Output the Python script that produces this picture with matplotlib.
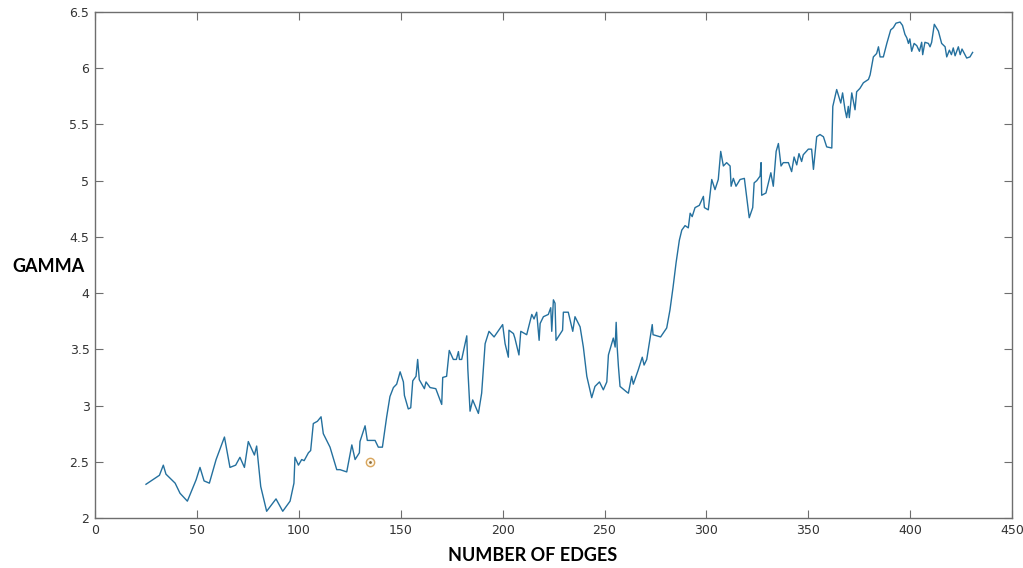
import matplotlib
matplotlib.use("Agg")
from matplotlib import pyplot as plt
from matplotlib.ticker import FuncFormatter
import numpy as np

# number of edges vs. gamma
edges = [25, 31.6, 33.5, 34.8, 39.3, 41.7, 45.3, 49.6, 51.5, 53.5, 56.1, 59.4,
         63.5, 66.2, 69, 71.1, 73.3, 75.2, 78.2, 79.3, 81.3, 84.2, 88.8, 92.1,
         95.7, 97.6, 98.1, 99.8, 101.4, 102.6, 104.7, 105.8, 107.1, 109.1, 110.9,
         112, 115.3, 118.6, 120.2, 123.5, 126, 127.6, 129.7, 130, 132.5, 133.6,
         137.4, 139, 141, 143.1, 144.7, 146.4, 148, 149.7, 151.3, 151.8, 153.7,
         154.9, 155.9, 157.5, 158.3, 159.1, 161.6, 162.4, 164.4, 167.2, 170.1,
         170.6, 172.5, 173.8, 175.8, 177.3, 178.3, 178.8, 179.9, 182.4, 182.9,
         184, 185.3, 188.1, 189.7, 191.4, 193.3, 195.8, 200, 201.2, 202.8, 203.1,
         205.3, 206, 208, 208.9, 211.8, 214.3, 215.4, 216.7, 217.9, 218.4, 220,
         222.4, 223.6, 224.1, 224.9, 225.7, 226.2, 229.4, 229.8, 232.2, 234.4,
         235.5, 238, 239.6, 241.3, 243.7, 245.3, 247.5, 249.4, 251.1, 251.9,
         254.3, 255.2, 255.7, 256.2, 256.8, 257.6, 260.9, 261.7, 263.3, 264.1,
         266.6, 268.5, 269.4, 270.7, 273.4, 273.8, 277.5, 280.5, 282.1, 283.6,
         285.1, 286.7, 287.9, 289.5, 291.1, 292, 293, 294.4, 296.5, 298.5, 299,
         300.9, 302.6, 304.2, 305.8, 307, 308.3, 309.9, 311.6, 312.1, 313.2,
         314.5, 316.5, 318.6, 321, 322.7, 323.4, 324.7, 326.3, 326.8, 327.1,
         329.2, 330.4, 331.6, 332.8, 334.2, 335.3, 336.6, 337.7, 340.2, 341.8,
         343, 344.3, 345.4, 346.7, 347.5, 350, 351.6, 352.5, 354.1, 355.7, 357.4,
         359, 361.5, 362, 363.9, 365.9, 366.8, 368, 368.8, 369.6, 370.1, 371.3,
         372.9, 373.7, 375.3, 377, 379.5, 380.3, 381.9, 383.5, 384.4, 385.2,
         386.8, 388.5, 390.4, 391.7, 393, 395, 396.2, 397.4, 398.3, 399.1, 399.8,
         400.7, 401.9, 403.2, 404.5, 405.6, 406.1, 407.2, 408.9, 409.7, 410.5,
         411.8, 413.8, 415.4, 417.1, 417.9, 419.2, 420.2, 421.1, 422, 423.6,
         424.5, 425.4, 427.7, 429.3, 430.6]
gamma = [2.30, 2.38, 2.47, 2.39, 2.31, 2.22, 2.15, 2.34, 2.45, 2.33, 2.31, 2.52,
         2.72, 2.45, 2.47, 2.54, 2.45, 2.68, 2.56, 2.64, 2.28, 2.06, 2.17, 2.06,
         2.15, 2.31, 2.54, 2.47, 2.52, 2.51, 2.58, 2.60, 2.84, 2.86, 2.90,
         2.75, 2.63, 2.43, 2.43, 2.41, 2.65, 2.52, 2.58, 2.68, 2.82, 2.69,
         2.69, 2.63, 2.63, 2.90, 3.08, 3.16, 3.19, 3.30, 3.21, 3.09, 2.97,
         2.98, 3.22, 3.26, 3.41, 3.23, 3.15, 3.21, 3.16, 3.15, 3.01,
         3.25, 3.26, 3.49, 3.41, 3.41, 3.48, 3.41, 3.41, 3.62, 3.33,
         2.95, 3.05, 2.93, 3.11, 3.55, 3.66, 3.61, 3.72, 3.55, 3.43, 3.67,
         3.64, 3.60, 3.45, 3.66, 3.63, 3.81, 3.77, 3.83, 3.58, 3.73, 3.79,
         3.81, 3.87, 3.66, 3.94, 3.91, 3.58, 3.67, 3.83, 3.83, 3.66,
         3.79, 3.70, 3.52, 3.26, 3.07, 3.17, 3.21, 3.14, 3.21, 3.45,
         3.60, 3.52, 3.74, 3.52, 3.35, 3.17, 3.12, 3.11, 3.26, 3.19,
         3.32, 3.43, 3.36, 3.41, 3.72, 3.63, 3.61, 3.69, 3.85, 4.05,
         4.27, 4.47, 4.56, 4.60, 4.58, 4.71, 4.68, 4.76, 4.78, 4.86, 4.76,
         4.74, 5.01, 4.92, 5.01, 5.26, 5.13, 5.16, 5.13, 4.95, 5.02,
         4.95, 5.01, 5.02, 4.67, 4.76, 4.98, 5.00, 5.04, 5.16, 4.87,
         4.89, 4.98, 5.07, 4.95, 5.26, 5.33, 5.13, 5.16, 5.16, 5.08,
         5.21, 5.14, 5.24, 5.17, 5.23, 5.28, 5.28, 5.10, 5.39, 5.41, 5.39,
         5.30, 5.29, 5.66, 5.81, 5.69, 5.78, 5.63, 5.56, 5.66, 5.56, 5.78,
         5.63, 5.79, 5.82, 5.87, 5.90, 5.94, 6.10, 6.13, 6.19, 6.10,
         6.10, 6.22, 6.34, 6.36, 6.40, 6.41, 6.38, 6.30, 6.27, 6.22, 6.26,
         6.15, 6.22, 6.20, 6.15, 6.23, 6.12, 6.23, 6.22, 6.19, 6.23,
         6.39, 6.33, 6.22, 6.19, 6.10, 6.16, 6.12, 6.18, 6.11, 6.19,
         6.12, 6.17, 6.09, 6.10, 6.14]

# highlighted point
mark_x = [135]
mark_y = [2.5]

x_ticks = [0, 50, 100, 150, 200, 250, 300, 350, 400, 450]
y_ticks = [2, 2.5, 3, 3.5, 4, 4.5, 5, 5.5, 6, 6.5]

fig = plt.figure(figsize=(10.23, 5.68), dpi=100)
ax = fig.add_axes([0.0929, 0.088, 0.8965, 0.891])

ax.plot(edges, gamma, color='#24709e', lw=1.0)
ax.plot(mark_x, mark_y, 'o', ms=6, mfc='#fff8ea', mec='#d9a65e', mew=1.0)
ax.plot(mark_x, mark_y, 'o', ms=2, mfc='#8a6a3a', mec='none')

ax.set_xlim(0, 450)
ax.set_ylim(2, 6.5)
ax.set_xticks(x_ticks)
ax.set_yticks(y_ticks)
ax.yaxis.set_major_formatter(FuncFormatter(lambda v, p: '%g' % v))

for s in ax.spines.values():
    s.set_color('#6e6e6e')
    s.set_linewidth(1.0)
ax.tick_params(direction='in', length=6, width=0.8, color='#6e6e6e',
               top=True, right=True, labelsize=9, labelcolor='#333333', pad=4)

label_font = ['Lato', 'DejaVu Sans']
fig.text(0.521, 0.022, 'NUMBER OF EDGES', fontsize=13, fontweight='bold',
         family=label_font, ha='center', va='center')
fig.text(0.012, 0.53, 'GAMMA', fontsize=13, fontweight='bold',
         family=label_font, ha='left', va='center')

fig.savefig('out.png', dpi=100)
